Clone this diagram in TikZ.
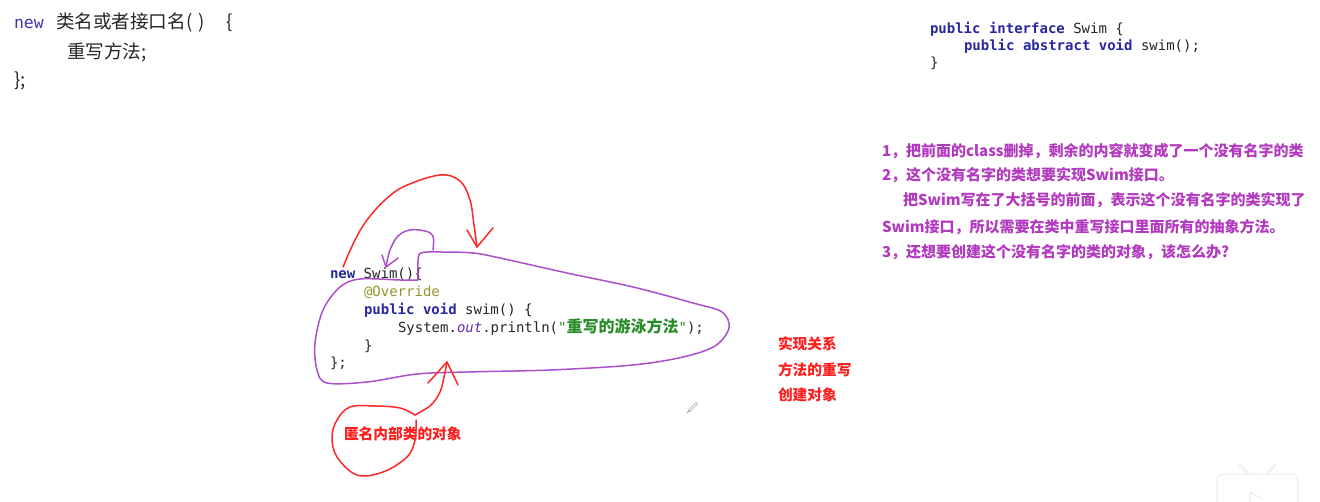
\documentclass[tikz,border=0pt]{standalone}
\usepackage{fontspec}
\setmainfont{Liberation Sans}
\newfontfamily\cjk{Noto Sans CJK SC}
\newfontfamily\mono{DejaVu Sans Mono}
\definecolor{kw}{RGB}{40,40,160}
\definecolor{kwnew}{RGB}{60,50,170}
\definecolor{annot}{RGB}{150,150,40}
\definecolor{fieldc}{RGB}{100,40,180}
\definecolor{strgreen}{RGB}{40,140,40}
\definecolor{note}{RGB}{178,58,190}
\definecolor{redtxt}{RGB}{255,30,30}
\definecolor{loopc}{RGB}{170,80,200}
\definecolor{redpen}{RGB}{255,40,40}
\tikzset{
  txt/.style={anchor=base west, inner sep=0pt, outer sep=0pt},
  codemid/.style={txt, font=\mono\fontsize{14}{16}\selectfont, text=black!85},
  codeif/.style={txt, font=\mono\fontsize{14}{16}\selectfont, text=black!85},
  codetl/.style={txt, font=\cjk\fontsize{18.6}{20}\selectfont, text=black!85},
  notetxt/.style={txt, font=\cjk\bfseries\fontsize{15}{17}\selectfont, text=note},
  redlabel/.style={txt, font=\cjk\bfseries\fontsize{14.7}{16}\selectfont, text=redtxt},
  redstroke/.style={draw=redpen, line width=1.5pt, line cap=round, line join=round},
  loopstroke/.style={draw=loopc, line width=1.5pt, line cap=round, line join=round},
}
\newcommand{\kwd}[1]{{\bfseries\color{kw}#1}}
\begin{document}
\begin{tikzpicture}[x=1pt,y=-1pt]
\path[use as bounding box, fill=white] (0,0) rectangle (1320,502);

% top-left template
\node[txt, font=\mono\fontsize{16.5}{18}\selectfont, text=kwnew] (tl1a) at (14,29) {new};
\node[codetl] (tl1b) at (56,29) {类名或者接口名(\hspace{0.3em})\hspace{1.2em}\{};
\node[codetl] (tl2) at (67,59) {重写方法;};
\node[codetl] (tl3) at (14,87) {\};};

% interface code
\node[codeif] (if1) at (930,34) {\kwd{public} \kwd{interface} Swim \{};
\node[codeif] (if2) at (964,51) {\kwd{public} \kwd{abstract} \kwd{void} swim();};
\node[codeif] (if3) at (930,68) {\}};

% notes
\node[notetxt] (n1) at (882,157) {1，把前面的class删掉，剩余的内容就变成了一个没有名字的类};
\node[notetxt] (n2) at (882,181) {2，这个没有名字的类想要实现Swim接口。};
\node[notetxt] (n3) at (903,206) {把Swim写在了大括号的前面，表示这个没有名字的类实现了};
\node[notetxt] (n4) at (882,233) {Swim接口，所以需要在类中重写接口里面所有的抽象方法。};
\node[notetxt] (n5) at (882,258) {3，还想要创建这个没有名字的类的对象，该怎么办?};

% middle code
\node[codemid] (c1) at (330,279) {\kwd{new} Swim()\{};
\node[codemid] (c2) at (364,296.8) {{\color{annot}@Override}};
\node[codemid] (c3) at (364,314.6) {\kwd{public} \kwd{void} swim() \{};
\node[codemid] (c4) at (398,332.4) {System.{\itshape\color{fieldc}out}.println({\color{strgreen}"}{\cjk\bfseries\fontsize{16}{17}\selectfont\color{strgreen}重写的游泳方法}{\color{strgreen}"});};
\node[codemid] (c5) at (364,350.2) {\}};
\node[codemid] (c6) at (330,368) {\};};

% red labels
\node[redlabel] (r1) at (778,349.5) {实现关系};
\node[redlabel] (r2) at (778,375.5) {方法的重写};
\node[redlabel] (r3) at (778,400.5) {创建对象};
\node[redlabel] (anon) at (344,439) {匿名内部类的对象};

% big red arch arrow
\draw[redstroke] plot[smooth, tension=0.6] coordinates {(343,267) (355,240) (367,220) (385,200) (405,186) (440,175) (460,181) (470,200) (474,225) (477,247)};
\draw[redstroke] (467,230) -- (477,247) -- (493,228);

% small purple arrow
\draw[loopstroke] plot[smooth, tension=0.6] coordinates {(433,250) (433,236) (425,231) (410,230) (398,236) (390,250) (386,267)};
\draw[loopstroke] (382,255) -- (386,267) -- (398,258);

% purple loop
\draw[loopstroke] plot[smooth, tension=0.55] coordinates {(418,280) (418,262) (421,253) (440,252) (473,253) (500,258) (567,273) (633,287) (693,303) (722,312) (729,328) (715,346) (683,357) (633,365) (550,370) (467,372) (417,374) (367,382) (327,383) (317,370) (315,343) (323,310) (340,287) (360,279) (400,280) (418,280)};

% red arrow from below
\draw[redstroke] plot[smooth, tension=0.6] coordinates {(447,362) (444,377) (440,392) (431,405) (415,415)};
\draw[redstroke] (428,383) -- (447,362) -- (458,385);

% red circle
\draw[redstroke] plot[smooth, tension=0.6] coordinates {(415,415) (400,408) (375,406) (350,407) (337,420) (332,437) (337,457) (357,475) (383,472) (407,457) (415,440) (416,420)};

% pencil cursor
\draw[line width=2.6pt, gray!70] (689,411) -- (697,403);
\draw[line width=1.4pt, white] (689.5,410.5) -- (696.5,403.5);
\draw[line width=0.8pt, gray!80] (687,413) -- (689.5,410.5);

% watermark
\draw[gray!10, line width=1.5pt, fill=white, rounded corners=6pt] (1217,502) -- (1217,474) -- (1298,474) -- (1298,502);
\draw[gray!10, line width=3pt, line cap=round] (1240,465) -- (1247,473) (1275,465) -- (1268,473);
\draw[gray!12, line width=1.5pt, line join=round] (1250,502) -- (1250,492) -- (1262,499);
\end{tikzpicture}
\end{document}
